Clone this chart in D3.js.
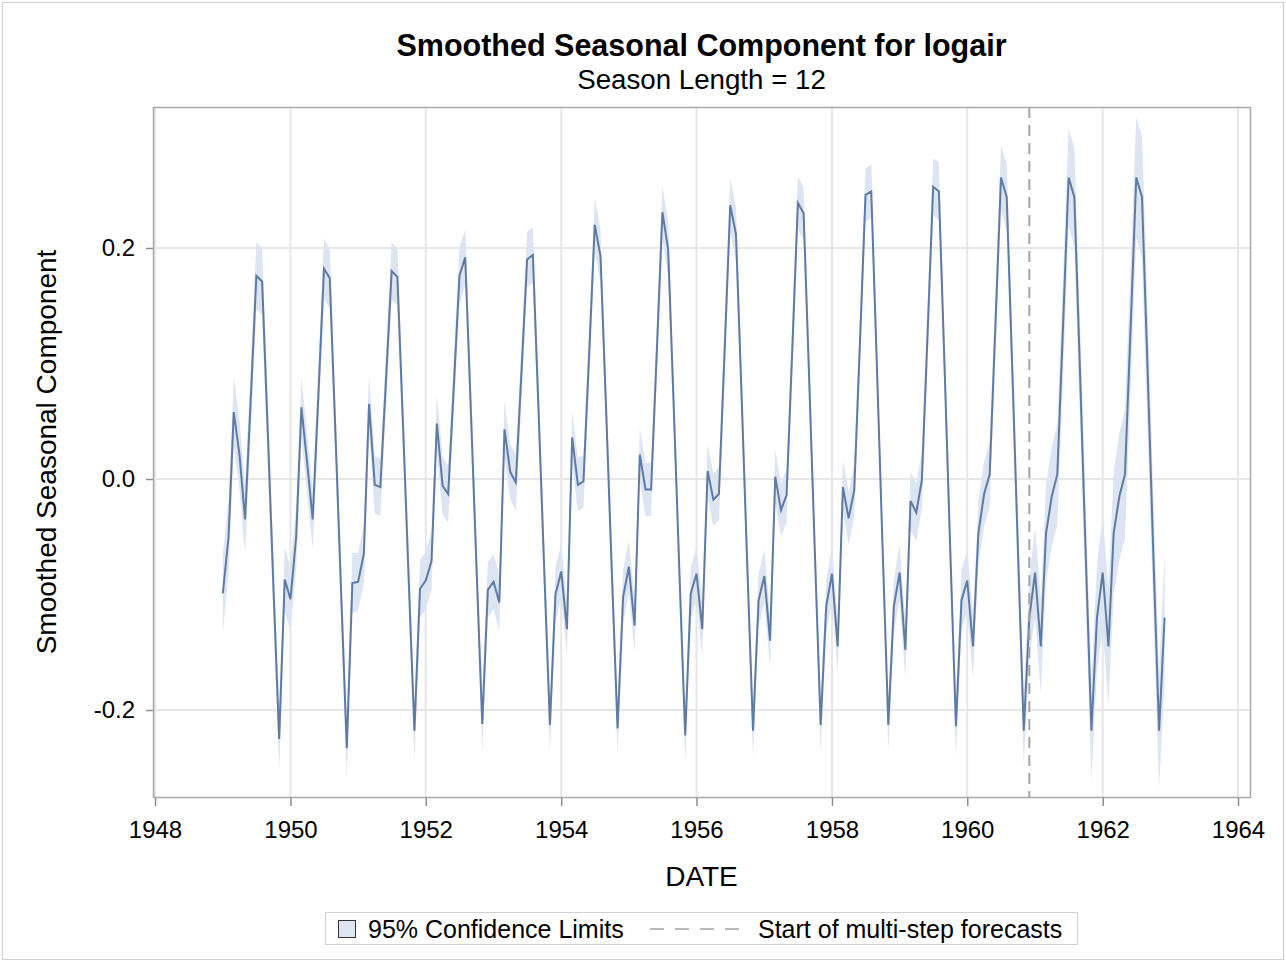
<!DOCTYPE html>
<html>
<head>
<meta charset="utf-8">
<script src="https://cdn.jsdelivr.net/npm/d3@7"></script>
<style>
  body { margin: 0; background: #fff; }
  svg text { font-family: "Liberation Sans", Arial, sans-serif; fill: #000; }
</style>
</head>
<body>
<svg id="chart" width="1286" height="962"></svg>
<script>
// smoothed seasonal component, one row per year (Jan..Dec), 1949-1962
var seasonal = [
  -0.099, -0.050,  0.058,  0.021, -0.035,  0.070, 0.176, 0.171, 0.039, -0.093, -0.225, -0.087, // 1949
  -0.104, -0.050,  0.062,  0.014, -0.035,  0.074, 0.182, 0.174, 0.038, -0.097, -0.233, -0.090, // 1950
  -0.089, -0.065,  0.065, -0.005, -0.007,  0.087, 0.180, 0.175, 0.044, -0.087, -0.218, -0.095, // 1951
  -0.088, -0.071,  0.048, -0.006, -0.013,  0.082, 0.176, 0.192, 0.057, -0.077, -0.212, -0.096, // 1952
  -0.089, -0.107,  0.043,  0.006, -0.003,  0.094, 0.190, 0.194, 0.058, -0.077, -0.213, -0.100, // 1953
  -0.080, -0.130,  0.036, -0.005, -0.002,  0.109, 0.220, 0.193, 0.057, -0.080, -0.216, -0.102, // 1954
  -0.076, -0.127,  0.021, -0.009, -0.009,  0.111, 0.231, 0.199, 0.059, -0.082, -0.222, -0.099, // 1955
  -0.082, -0.130,  0.007, -0.018, -0.013,  0.112, 0.237, 0.212, 0.069, -0.075, -0.218, -0.105, // 1956
  -0.084, -0.140,  0.002, -0.027, -0.014,  0.113, 0.239, 0.230, 0.082, -0.065, -0.213, -0.110, // 1957
  -0.082, -0.145, -0.007, -0.034, -0.010,  0.118, 0.246, 0.249, 0.095, -0.059, -0.213, -0.110, // 1958
  -0.081, -0.148, -0.019, -0.029, -0.001,  0.126, 0.253, 0.249, 0.095, -0.060, -0.214, -0.105, // 1959
  -0.088, -0.145, -0.047, -0.013,  0.004,  0.133, 0.261, 0.244, 0.090, -0.064, -0.218, -0.120, // 1960
  -0.081, -0.145, -0.047, -0.015,  0.004,  0.133, 0.261, 0.244, 0.090, -0.064, -0.218, -0.120, // 1961
  -0.081, -0.145, -0.047, -0.015,  0.004,  0.133, 0.261, 0.244, 0.090, -0.064, -0.218, -0.120  // 1962
];

// half width of the 95% confidence band at each month
var halfWidth = [
  0.034, 0.032, 0.030, 0.030, 0.030, 0.029, 0.029, 0.029, 0.029, 0.028, 0.028, 0.028,
  0.027, 0.027, 0.026, 0.026, 0.026, 0.026, 0.026, 0.026, 0.026, 0.026, 0.026, 0.026,
  0.025, 0.025, 0.025, 0.025, 0.025, 0.025, 0.025, 0.025, 0.025, 0.025, 0.025, 0.025,
  0.025, 0.025, 0.025, 0.025, 0.025, 0.025, 0.025, 0.024, 0.024, 0.024, 0.024, 0.024,
  0.024, 0.024, 0.024, 0.024, 0.024, 0.024, 0.024, 0.024, 0.024, 0.024, 0.024, 0.024,
  0.023, 0.023, 0.023, 0.023, 0.023, 0.023, 0.023, 0.023, 0.023, 0.023, 0.023, 0.023,
  0.023, 0.023, 0.023, 0.023, 0.023, 0.023, 0.023, 0.023, 0.023, 0.023, 0.023, 0.023,
  0.023, 0.023, 0.023, 0.023, 0.023, 0.023, 0.023, 0.023, 0.023, 0.023, 0.023, 0.023,
  0.023, 0.023, 0.023, 0.023, 0.023, 0.023, 0.023, 0.023, 0.023, 0.023, 0.023, 0.023,
  0.023, 0.023, 0.023, 0.023, 0.023, 0.023, 0.023, 0.023, 0.023, 0.023, 0.023, 0.023,
  0.024, 0.025, 0.025, 0.025, 0.025, 0.025, 0.025, 0.025, 0.025, 0.025, 0.026, 0.026,
  0.027, 0.028, 0.028, 0.028, 0.028, 0.028, 0.028, 0.029, 0.029, 0.030, 0.030, 0.034,
  0.039, 0.041, 0.042, 0.043, 0.044, 0.043, 0.042, 0.043, 0.043, 0.042, 0.042, 0.046,
  0.049, 0.051, 0.053, 0.055, 0.056, 0.054, 0.052, 0.053, 0.053, 0.052, 0.050, 0.056
];

var startYear = 1949;
var forecastStart = new Date(1960, 11, 1);
var xTickYears = [1948, 1950, 1952, 1954, 1956, 1958, 1960, 1962, 1964];
var yTickValues = [-0.2, 0.0, 0.2];

var data = seasonal.map(function (v, i) {
    return {date: new Date(startYear, i, 1), value: v, lo: v - halfWidth[i], hi: v + halfWidth[i]};
});

var svg = d3.select("#chart");
var W = 1286, H = 962;
var plot = {left: 153, right: 1250, top: 107, bottom: 797};

var x = d3.scaleTime()
    .domain([new Date(1948, 0, 1), new Date(1964, 0, 1)])
    .range([155, 1238]);
var y = d3.scaleLinear()
    .domain([-0.2, 0.2])
    .range([710, 248]);

// outer border
svg.append("rect")
    .attr("x", 2.5).attr("y", 2.5)
    .attr("width", W - 5).attr("height", H - 5)
    .attr("fill", "none")
    .attr("stroke", "#cfcfcf")
    .attr("stroke-width", 1);

// titles
svg.append("text")
    .attr("x", (plot.left + plot.right) / 2).attr("y", 56)
    .attr("text-anchor", "middle")
    .style("font-size", "30.5px").style("font-weight", "bold")
    .text("Smoothed Seasonal Component for logair");
svg.append("text")
    .attr("x", (plot.left + plot.right) / 2).attr("y", 89)
    .attr("text-anchor", "middle")
    .style("font-size", "27.7px")
    .text("Season Length = 12");

// gridlines
var grid = svg.append("g")
    .attr("stroke", "#e6e6e6")
    .attr("stroke-width", 2);
grid.selectAll("line.gx")
    .data(xTickYears)
    .enter().append("line")
    .attr("class", "gx")
    .attr("x1", function (d) { return x(new Date(d, 0, 1)); })
    .attr("x2", function (d) { return x(new Date(d, 0, 1)); })
    .attr("y1", plot.top).attr("y2", plot.bottom);
grid.selectAll("line.gy")
    .data(yTickValues)
    .enter().append("line")
    .attr("class", "gy")
    .attr("x1", plot.left).attr("x2", plot.right)
    .attr("y1", function (d) { return y(d); })
    .attr("y2", function (d) { return y(d); });

// confidence band
var band = d3.area()
    .x(function (d) { return x(d.date); })
    .y0(function (d) { return y(d.lo); })
    .y1(function (d) { return y(d.hi); });
svg.append("path")
    .datum(data)
    .attr("d", band)
    .attr("fill", "#dce5f1");

// seasonal line
var line = d3.line()
    .x(function (d) { return x(d.date); })
    .y(function (d) { return y(d.value); });
svg.append("path")
    .datum(data)
    .attr("d", line)
    .attr("fill", "none")
    .attr("stroke", "#5f7ba3")
    .attr("stroke-width", 2)
    .attr("stroke-linejoin", "miter");

// start of multi-step forecasts
svg.append("line")
    .attr("x1", x(forecastStart)).attr("x2", x(forecastStart))
    .attr("y1", plot.top).attr("y2", plot.bottom)
    .attr("stroke", "#a3a3a3")
    .attr("stroke-width", 2)
    .attr("stroke-dasharray", "11,7");

// plot frame
svg.append("rect")
    .attr("x", plot.left + 0.5).attr("y", plot.top + 0.5)
    .attr("width", plot.right - plot.left).attr("height", plot.bottom - plot.top)
    .attr("fill", "none")
    .attr("stroke", "#a8a8a8")
    .attr("stroke-width", 1.5);

// axes
var xAxis = d3.axisBottom(x)
    .tickValues(xTickYears.map(function (d) { return new Date(d, 0, 1); }))
    .tickFormat(d3.timeFormat("%Y"))
    .tickSizeInner(8).tickSizeOuter(0).tickPadding(15);
var gx = svg.append("g")
    .attr("transform", "translate(0," + (plot.bottom + 1) + ")")
    .call(xAxis);
gx.select(".domain").remove();
gx.selectAll(".tick line").attr("stroke", "#8c8c8c").attr("stroke-width", 1.5);
gx.selectAll(".tick text").style("font-size", "24px").attr("fill", "#000");

var yAxis = d3.axisLeft(y)
    .tickValues(yTickValues)
    .tickFormat(function (d) { return d.toFixed(1); })
    .tickSizeInner(7).tickSizeOuter(0).tickPadding(11);
var gy = svg.append("g")
    .attr("transform", "translate(" + plot.left + ",0)")
    .call(yAxis);
gy.select(".domain").remove();
gy.selectAll(".tick line").attr("stroke", "#8c8c8c").attr("stroke-width", 1.5);
gy.selectAll(".tick text").style("font-size", "24px").attr("fill", "#000");

// axis labels
svg.append("text")
    .attr("x", (plot.left + plot.right) / 2).attr("y", 886)
    .attr("text-anchor", "middle")
    .style("font-size", "28px")
    .text("DATE");
svg.append("text")
    .attr("transform", "translate(56," + (plot.top + plot.bottom) / 2 + ") rotate(-90)")
    .attr("text-anchor", "middle")
    .style("font-size", "28px")
    .text("Smoothed Seasonal Component");

// legend
var lg = svg.append("g");
lg.append("rect")
    .attr("x", 325.5).attr("y", 912.5)
    .attr("width", 752).attr("height", 32)
    .attr("fill", "#fff")
    .attr("stroke", "#d0d0d0");
lg.append("rect")
    .attr("x", 338.5).attr("y", 920.5)
    .attr("width", 17).attr("height", 17)
    .attr("fill", "#dce5f1")
    .attr("stroke", "#333")
    .attr("stroke-width", 1);
lg.append("text")
    .attr("x", 368).attr("y", 938)
    .style("font-size", "25px")
    .text("95% Confidence Limits");
lg.append("line")
    .attr("x1", 650).attr("x2", 746)
    .attr("y1", 929).attr("y2", 929)
    .attr("stroke", "#a3a3a3")
    .attr("stroke-width", 1.5)
    .attr("stroke-dasharray", "14,11");
lg.append("text")
    .attr("x", 758).attr("y", 938)
    .style("font-size", "25px")
    .text("Start of multi-step forecasts");
</script>
</body>
</html>
